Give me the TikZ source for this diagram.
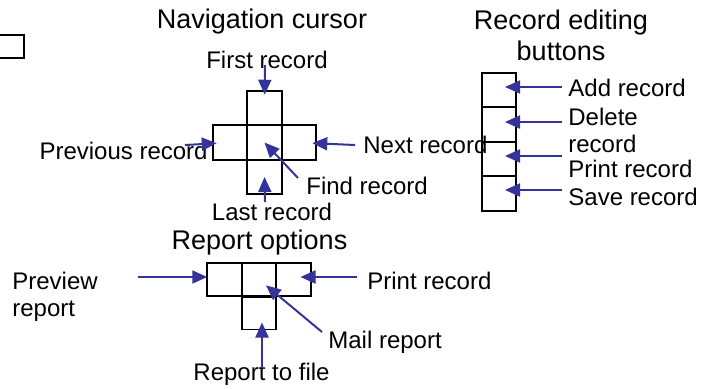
\documentclass[tikz,border=0pt]{standalone}
\usepackage{fontspec}
\setmainfont{Liberation Sans}
\usepackage{tikz}
\usetikzlibrary{arrows.meta,positioning}
\definecolor{navyarrow}{RGB}{51,51,153}

\begin{document}
\begin{tikzpicture}[x=0.5pt, y=-0.5pt, node distance=0pt,
  cell/.style={draw, line width=0.9pt, outer sep=0pt, inner sep=0pt, minimum width=17.25pt, minimum height=17.25pt},
  lbl/.style={inner sep=0pt, font=\fontsize{12}{13.5}\selectfont},
  ttl/.style={inner sep=0pt, font=\fontsize{13.5}{15.5}\selectfont, align=center},
  arr/.style={draw=navyarrow, line width=1pt, -{Triangle[length=7.5pt, width=6.5pt]}, shorten >=-2pt}]
  \useasboundingbox (0,0) rectangle (705,388);

  % box cut off at the left edge
  \node (spare) [draw, line width=0.9pt, minimum width=30pt, minimum height=11.5pt] at (-6,46.5) {};

  % navigation cursor
  \node (navtitle) [ttl, anchor=base] at (262,28.5) {Navigation cursor};
  \node (navC) [cell] at (264.5,142.5) {};
  \node (navN) [cell, above=of navC] {};
  \node (navS) [cell, below=of navC] {};
  \node (navW) [cell, left=of navC] {};
  \node (navE) [cell, right=of navC] {};

  \node (first) [lbl, anchor=base] at (267,68) {First record};
  \node (prev) [lbl, anchor=base east] at (208,159) {Previous record};
  \node (next) [lbl, anchor=base west] at (363,153) {Next record};
  \node (find) [lbl, anchor=base west] at (306,194) {Find record};
  \node (last) [lbl, anchor=base] at (272,220) {Last record};

  \coordinate (tFirst) at (265,65);
  \coordinate (tPrev) at (185,145);
  \coordinate (tNext) at (355,145);
  \coordinate (tFind) at (298,178);
  \coordinate (tLast) at (265,202);
  \draw[arr] (tFirst) -- (navN);
  \draw[arr] (tPrev) -- (navW);
  \draw[arr] (tNext) -- (navE);
  \draw[arr, shorten >=0pt] (tFind) -- (navC.center);
  \draw[arr, shorten >=0pt] (tLast) -- (navS.center);

  % record editing buttons
  \node (rectitle) [ttl, anchor=base] at (561,60) {Record editing\\buttons};
  \node (rec1) [cell] at (499,90) {};
  \node (rec2) [cell, below=of rec1] {};
  \node (rec3) [cell, below=of rec2] {};
  \node (rec4) [cell, below=of rec3] {};

  \node (add) [lbl, anchor=base west] at (568,96) {Add record};
  \node (del) [lbl, anchor=base west, align=left] at (568,152) {Delete\\record};
  \node (print) [lbl, anchor=base west] at (568,177) {Print record};
  \node (save) [lbl, anchor=base west] at (568,205) {Save record};

  \coordinate (tAdd) at (562,87);
  \coordinate (tDel) at (562,122);
  \coordinate (tPrint) at (562,156);
  \coordinate (tSave) at (562,190);
  \draw[arr, shorten >=3pt] (tAdd) -- (tAdd -| rec1.center);
  \draw[arr, shorten >=3pt] (tDel) -- (tDel -| rec2.center);
  \draw[arr, shorten >=3pt] (tPrint) -- (tPrint -| rec3.center);
  \draw[arr, shorten >=3pt] (tSave) -- (tSave -| rec4.center);

  % report options
  \node (reptitle) [ttl, anchor=base] at (259.5,249) {Report options};
  \node (repM) [cell, minimum height=16.5pt] at (259,279.5) {};
  \node (repW) [cell, minimum height=16.5pt, left=of repM] {};
  \node (repE) [cell, minimum height=16.5pt, right=of repM] {};
  \node (repS) [cell, minimum height=16.25pt, below=0.5pt of repM] {};

  \node (preview) [lbl, anchor=base west, align=left] at (12,316) {Preview\\report};
  \node (printrep) [lbl, anchor=base west] at (367,289) {Print record};
  \node (mail) [lbl, anchor=base west] at (328,348) {Mail report};
  \node (tofile) [lbl, anchor=base] at (261.5,380) {Report to file};

  \coordinate (tPreview) at (138,277);
  \coordinate (tPrintRep) at (357,277);
  \coordinate (tMail) at (322,332);
  \coordinate (tFile) at (262,368);
  \draw[arr, shorten >=0pt] (tPreview) -- (tPreview -| repW.west);
  \draw[arr, shorten >=3.5pt] (tPrintRep) -- (tPrintRep -| repE.center);
  \draw[arr, shorten >=4.5pt] (tMail) -- (repM.center);
  \draw[arr, shorten >=-3.5pt] (tFile) -- (tFile |- repS.south);
\end{tikzpicture}
\end{document}
